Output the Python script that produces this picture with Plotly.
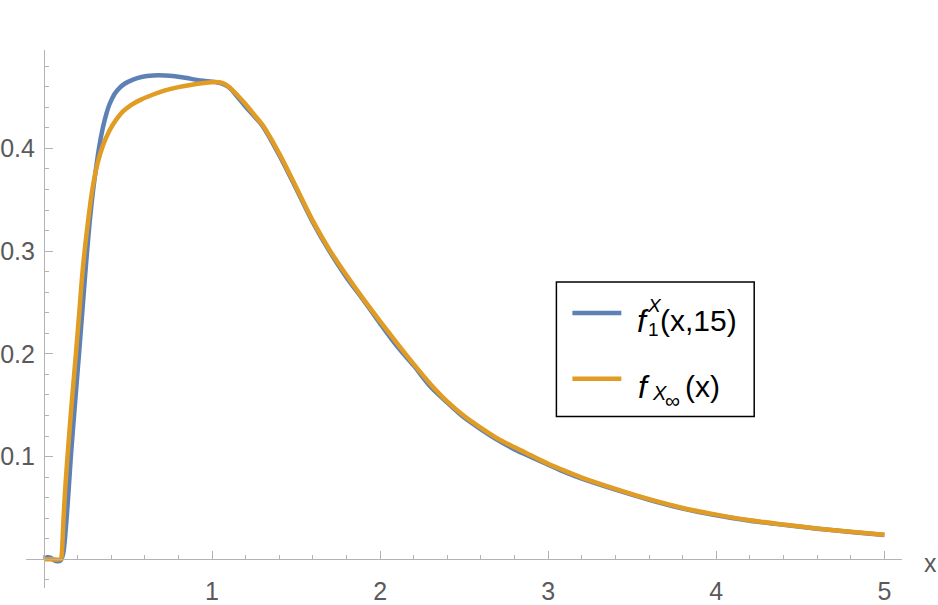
import plotly.graph_objects as go

# ---- data ----
x_15 = [0.0, 0.02, 0.04, 0.06, 0.08, 0.10, 0.115, 0.13, 0.145, 0.16, 0.185, 0.21, 0.23, 0.25, 0.27,
        0.29, 0.31, 0.33, 0.35, 0.37, 0.39, 0.42, 0.45, 0.48, 0.53, 0.58, 0.65, 0.72, 0.78, 0.85,
        0.90, 0.95, 1.00, 1.05, 1.10, 1.15, 1.20, 1.25, 1.30, 1.40, 1.50, 1.60, 1.70, 1.80, 1.90,
        2.00, 2.10, 2.20, 2.30, 2.40, 2.50, 2.60, 2.70, 2.80, 2.90, 3.00, 3.10, 3.20, 3.40, 3.60,
        3.80, 4.00, 4.20, 4.40, 4.60, 4.80, 5.00]
y_15 = [0.0, 0.002, 0.0015, -0.001, -0.002, -0.001, 0.006, 0.030, 0.063, 0.100, 0.152, 0.203, 0.245, 0.287, 0.325,
        0.356, 0.381, 0.403, 0.420, 0.433, 0.443, 0.453, 0.459, 0.463, 0.467, 0.4695, 0.471, 0.471, 0.4702, 0.4685,
        0.467, 0.4658, 0.465, 0.4635, 0.4595, 0.4505, 0.4405, 0.4315, 0.422, 0.3935, 0.361, 0.328, 0.2995, 0.2745, 0.2525,
        0.2295, 0.2075, 0.1885, 0.168, 0.1525, 0.138, 0.1265, 0.116, 0.107, 0.0995, 0.0922, 0.0848, 0.0785, 0.0678, 0.058,
        0.0495, 0.0428, 0.0376, 0.0335, 0.0298, 0.0266, 0.0236]

x_inf = [0.0, 0.05, 0.10, 0.105, 0.115, 0.125, 0.14, 0.165, 0.19, 0.21, 0.23, 0.26, 0.29, 0.32, 0.35,
         0.39, 0.43, 0.47, 0.52, 0.58, 0.65, 0.72, 0.80, 0.88, 0.95, 1.02, 1.06, 1.10, 1.15, 1.20,
         1.25, 1.30, 1.40, 1.50, 1.60, 1.70, 1.80, 1.90, 2.00, 2.10, 2.20, 2.30, 2.40, 2.50, 2.60,
         2.70, 2.80, 2.90, 3.00, 3.10, 3.20, 3.40, 3.60, 3.80, 4.00, 4.20, 4.40, 4.60, 4.80, 5.00]
y_inf = [0.0, 0.0, 0.0, 0.003, 0.035, 0.065, 0.10, 0.152, 0.200, 0.240, 0.281, 0.326, 0.362, 0.386, 0.4025,
         0.4175, 0.428, 0.436, 0.4425, 0.4478, 0.4525, 0.4565, 0.4597, 0.4621, 0.4637, 0.4648, 0.4638, 0.460, 0.452, 0.443,
         0.433, 0.423, 0.395, 0.3625, 0.3295, 0.301, 0.2765, 0.2535, 0.2317, 0.2105, 0.190, 0.1705, 0.1535, 0.1395, 0.128,
         0.1175, 0.109, 0.101, 0.093, 0.086, 0.0795, 0.0685, 0.0585, 0.050, 0.0435, 0.038, 0.0338, 0.030, 0.0268, 0.0238]

x_ticks = [1, 2, 3, 4, 5]
x_tick_labels = ["1", "2", "3", "4", "5"]
y_ticks = [0.1, 0.2, 0.3, 0.4]
y_tick_labels = ["0.1", "0.2", "0.3", "0.4"]

BLUE = "#5E81B5"
ORANGE = "#E19C24"
AXIS = "#b3b3b3"
TEXT = "#5a5a5a"
FONT = "Liberation Sans, Arial, sans-serif"

W, H = 938, 605


def px(x):
    return x / W


def py(y):
    return 1 - y / H


fig = go.Figure()
fig.add_trace(go.Scatter(x=x_15, y=y_15, mode="lines",
                         line=dict(color=BLUE, width=4.5, shape="spline", smoothing=0.8),
                         showlegend=False, hoverinfo="skip"))
fig.add_trace(go.Scatter(x=x_inf, y=y_inf, mode="lines",
                         line=dict(color=ORANGE, width=4.5, shape="spline", smoothing=0.8),
                         showlegend=False, hoverinfo="skip"))

fig.update_layout(
    width=W, height=H,
    margin=dict(l=0, r=0, t=0, b=0),
    paper_bgcolor="white", plot_bgcolor="white",
    font=dict(family=FONT, color=TEXT, size=24),
    xaxis=dict(
        domain=[px(25), px(902)], range=[-0.107, 5.105],
        anchor="free", position=(H - 561) / H,
        showgrid=False, zeroline=False,
        showline=True, linecolor=AXIS, linewidth=1,
        tickmode="array", tickvals=x_ticks, ticktext=x_tick_labels,
        ticks="inside", ticklen=8, tickcolor=AXIS, tickwidth=1,
        tickfont=dict(size=25, color=TEXT, family=FONT),
        ticklabelstandoff=10,
        minor=dict(tickmode="linear", tick0=0, dtick=0.2, ticks="inside",
                   ticklen=4, tickcolor=AXIS, tickwidth=1, showgrid=False),
    ),
    yaxis=dict(
        domain=[(H - 590) / H, (H - 50) / H], range=[-0.028, 0.496],
        anchor="free", position=px(43),
        showgrid=False, zeroline=False,
        showline=True, linecolor=AXIS, linewidth=1,
        tickmode="array", tickvals=y_ticks, ticktext=y_tick_labels,
        ticks="inside", ticklen=8, tickcolor=AXIS, tickwidth=1,
        tickfont=dict(size=25, color=TEXT, family=FONT),
        ticklabelstandoff=4,
        minor=dict(tickmode="linear", tick0=0, dtick=0.02, ticks="inside",
                   ticklen=4, tickcolor=AXIS, tickwidth=1, showgrid=False),
    ),
)

# axis label "x"
fig.add_annotation(x=px(930), y=py(565), xref="paper", yref="paper", text="x",
                   showarrow=False, xanchor="center", yanchor="middle",
                   font=dict(size=25, color=TEXT, family=FONT))

# ---- legend (drawn manually to stack sub/superscripts) ----
fig.add_shape(type="rect", xref="paper", yref="paper",
              x0=px(556), x1=px(754), y0=py(418), y1=py(283),
              line=dict(color="black", width=1.5), fillcolor="white", layer="above")
fig.add_shape(type="line", xref="paper", yref="paper",
              x0=px(572), x1=px(621), y0=py(314), y1=py(314),
              line=dict(color=BLUE, width=4.5), layer="above")
fig.add_shape(type="line", xref="paper", yref="paper",
              x0=px(572), x1=px(621), y0=py(380), y1=py(380),
              line=dict(color=ORANGE, width=4.5), layer="above")

LF = 30
leg = [
    ("<i>f</i>", 635, 322, LF + 2, "left"),
    ("<i>X</i>", 645, 307, 19, "left"),
    ("1", 646, 331, 19, "left"),
    ("(x,15)", 658, 322, LF, "left"),
    ("<i>f</i>", 636, 388, LF + 2, "left"),
    ("<i>X</i>", 650, 394, 20, "left"),
    ("∞", 663, 402, 21, "left"),
    ("(x)", 683, 388, LF, "left"),
]
for txt, lx, ly, fs, xa in leg:
    fig.add_annotation(x=px(lx), y=py(ly), xref="paper", yref="paper", text=txt,
                       showarrow=False, xanchor=xa, yanchor="middle",
                       font=dict(size=fs, color="black", family=FONT))

fig.write_html("out.html")
